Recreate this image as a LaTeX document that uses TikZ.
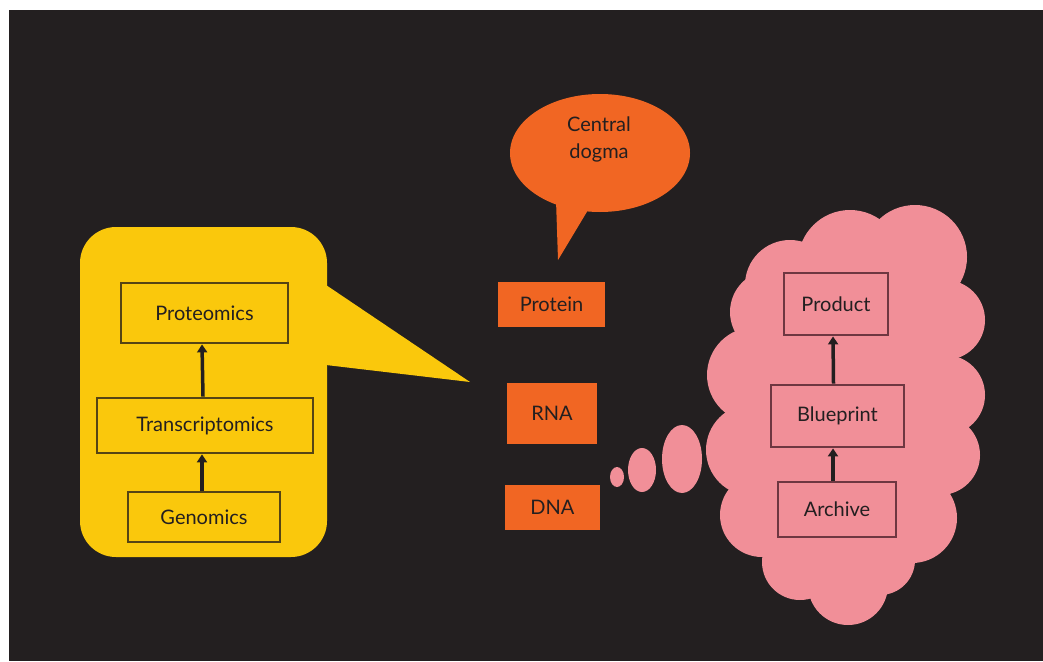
\documentclass[tikz,border=0pt]{standalone}
\usepackage{fontspec}
\setmainfont{Lato}
\usetikzlibrary{arrows.meta,shapes.geometric}
\definecolor{bg}{RGB}{35,31,32}
\definecolor{ybg}{RGB}{250,200,12}
\definecolor{ora}{RGB}{241,102,35}
\definecolor{pnk}{RGB}{241,143,152}
\definecolor{yline}{RGB}{85,68,20}
\definecolor{pline}{RGB}{110,55,65}
\definecolor{txt}{RGB}{35,31,32}
\tikzset{
  lbl/.style={font=\fontsize{20}{27}\selectfont, text=txt, inner sep=0pt, align=center},
  ybox/.style={lbl, draw=yline, line width=2.8pt, fill=ybg},
  obox/.style={lbl, fill=ora},
  pbox/.style={lbl, draw=pline, line width=2.8pt, fill=pnk},
  arr/.style={draw=txt, line width=3.5pt, -{Triangle[length=8pt,width=10pt]}},
}
\begin{document}
\begin{tikzpicture}[x=1pt,y=-1pt]
\useasboundingbox (0,0) rectangle (1043,661);
\fill[white] (0,0) rectangle (1043,661);
\fill[bg] (9,10) rectangle (1043,661);

% yellow callout
\fill[ybg, rounded corners=36pt] (80,227) rectangle (327,557);
\fill[ybg] (326,285) -- (470,382) -- (326,365) -- cycle;

\node[ybox, minimum width=167pt, minimum height=60pt] (prot) at (204.5,313) {Proteomics};
\node[ybox, minimum width=216pt, minimum height=55pt] (trans) at (205,425.5) {Transcriptomics};
\node[ybox, minimum width=152pt, minimum height=50pt] (gen) at (204,517) {Genomics};
\draw[arr] ([xshift=-2pt]trans.north) -- ([xshift=-2.5pt]prot.south);
\draw[arr] ([xshift=-2pt]gen.north) -- ([xshift=-3pt]trans.south);

% orange speech bubble
\fill[ora] (600,153) ellipse [x radius=90, y radius=59];
\fill[ora] (556,200) -- (558,260) -- (594,200) -- cycle;
\node[lbl] (dogma) at (599,139) {Central\\dogma};

\node[obox, minimum width=107pt, minimum height=45pt] (protein) at (551.5,304.5) {Protein};
\node[obox, minimum width=90pt, minimum height=61pt] (rna) at (552,413.5) {RNA};
\node[obox, minimum width=95pt, minimum height=45pt] (dna) at (552.5,507.5) {DNA};

% thought bubbles
\fill[pnk] (617,477) ellipse [x radius=7, y radius=10];
\fill[pnk] (642,470) ellipse [x radius=14, y radius=22];
\fill[pnk] (682,459) ellipse [x radius=20, y radius=34];

% cloud
\begin{scope}[pnk]
\fill (845,415) ellipse [x radius=118, y radius=175];
\fill (790,285) circle (45);
\fill (850,262) circle (52);
\fill (915,257) circle (52);
\fill (945,320) circle (40);
\fill (945,395) circle (40);
\fill (940,455) circle (40);
\fill (912,518) circle (45);
\fill (880,560) circle (35);
\fill (848,585) circle (40);
\fill (800,562) circle (38);
\fill (762,515) circle (42);
\fill (752,450) circle (46);
\fill (755,375) circle (48);
\fill (772,312) circle (42);
\end{scope}

\node[pbox, minimum width=104pt, minimum height=62pt] (product) at (836,304) {Product};
\node[pbox, minimum width=133pt, minimum height=62pt] (blue) at (837.5,416) {Blueprint};
\node[pbox, minimum width=118pt, minimum height=55pt] (arch) at (837,509.5) {Archive};
\draw[arr] ([xshift=-4pt]blue.north) -- ([xshift=-3pt]product.south);
\draw[arr] ([xshift=-4pt]arch.north) -- ([xshift=-4.5pt]blue.south);
\end{tikzpicture}
\end{document}
